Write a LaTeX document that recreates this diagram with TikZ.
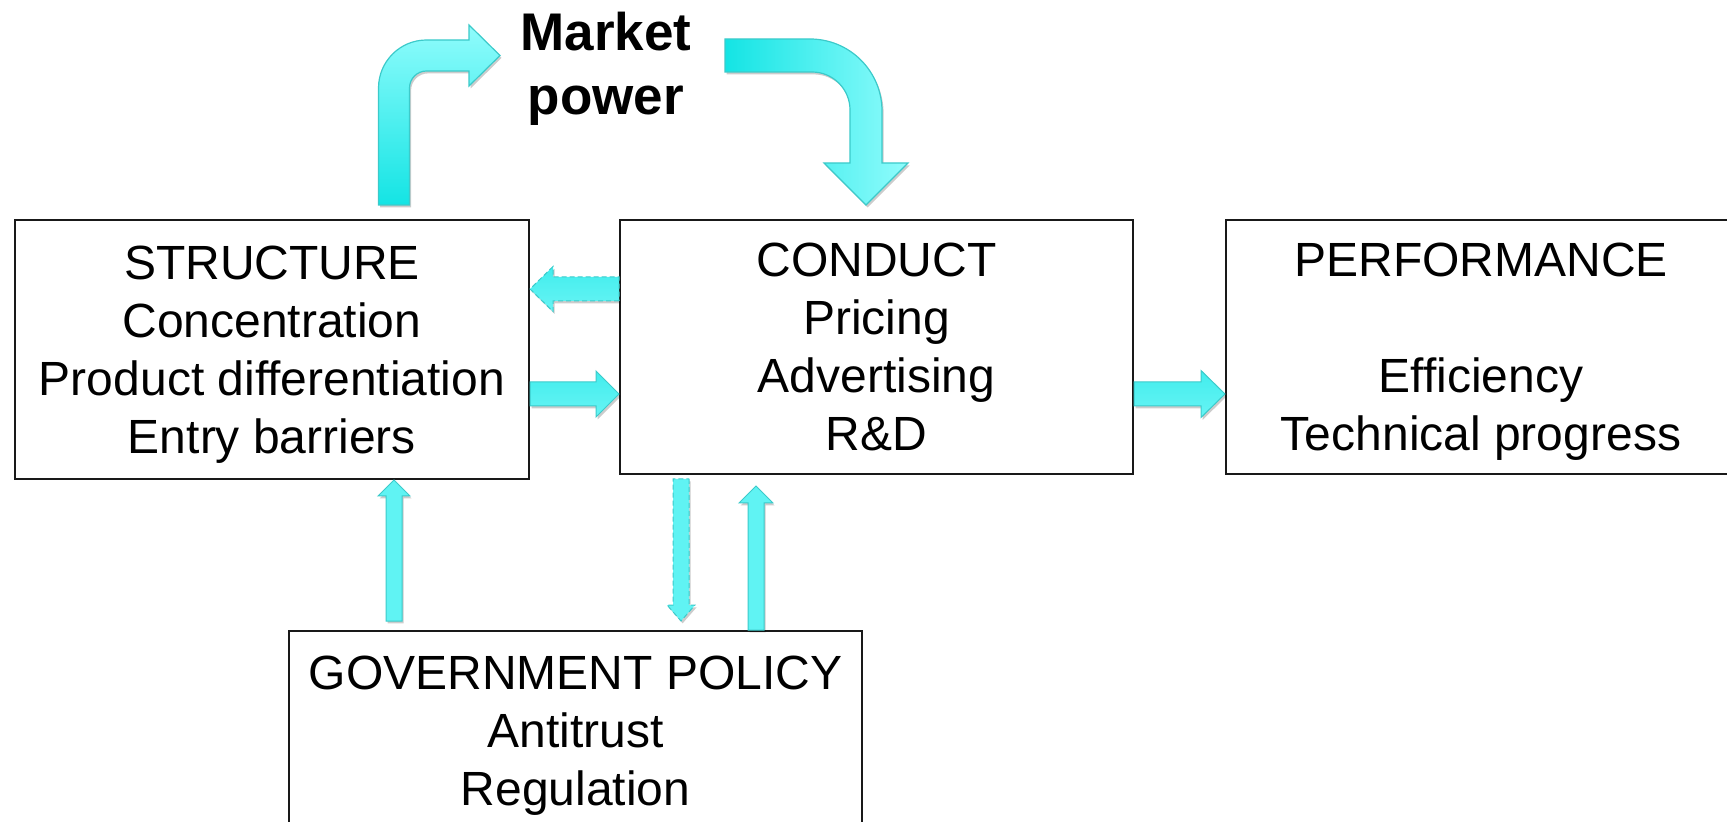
\documentclass[tikz,border=0pt]{standalone}
\usepackage{fontspec}
\setmainfont{Liberation Sans}
\usetikzlibrary{positioning,calc,shadows}

\definecolor{cyanlight}{HTML}{90FCFC}
\definecolor{cyandark}{HTML}{14E4E4}
\definecolor{cyanmid}{HTML}{4CEFEF}
\definecolor{cyanedge}{HTML}{3CCACA}

\newcommand{\boxfont}{\fontsize{24}{29}\selectfont}
\newcommand{\mpfont}{\fontsize{26.5}{32}\selectfont\bfseries}

% block arrow #2 -> #3, half shaft #4, half head #5, head length #6
\newcommand{\blockarrow}[6][]{%
  \coordinate (ba-s) at #2;
  \coordinate (ba-e) at #3;
  \coordinate (ba-h) at ($(ba-e)!#6!(ba-s)$);
  \path[#1] ($(ba-s)!#4!90:(ba-e)$) -- ($(ba-h)!#4!90:(ba-e)$)
    -- ($(ba-h)!#5!90:(ba-e)$) -- (ba-e) -- ($(ba-h)!#5!-90:(ba-e)$)
    -- ($(ba-h)!#4!-90:(ba-e)$) -- ($(ba-s)!#4!-90:(ba-e)$) -- cycle;
}

\tikzset{
  box/.style={draw=black!90, line width=1pt, align=center, font=\boxfont, inner sep=0pt, text depth=0pt},
  arrowshadow/.style={drop shadow={shadow xshift=0.8pt, shadow yshift=-1.2pt, opacity=0.2, fill=black}},
  bendarrow/.style={draw=cyanedge, line width=0.6pt, arrowshadow},
  flowarrow/.style={draw=cyanedge, line width=0.5pt, arrowshadow,
    top color=cyanmid!80!cyandark, bottom color=cyanmid!60!cyanlight},
  upflow/.style={draw=cyanedge, line width=0.5pt, arrowshadow, fill=cyanmid!70!cyanlight},
  dasharrow/.style={flowarrow, dash pattern=on 2.5pt off 1.5pt},
  dashdown/.style={upflow, dash pattern=on 2.5pt off 1.5pt},
}

\begin{document}
\begin{tikzpicture}[x=0.5pt,y=-0.5pt]
\useasboundingbox (0,0) rectangle (1727,822);

% boxes
\node[box, minimum width=257pt, minimum height=129.5pt] (struct) at (272,349.5)
  {STRUCTURE\\Concentration\\Product differentiation\\Entry barriers};
\node[box, minimum width=256.5pt, minimum height=127pt] (cond) at (876.5,347)
  {CONDUCT\\Pricing\\Advertising\\R\&D};
\node[box, minimum width=255pt, minimum height=127pt] (perf) at (1481,347)
  {PERFORMANCE\\ ~\\Efficiency\\Technical progress};
\node[box, minimum width=286.5pt, minimum height=100pt] (gov) at (575.5,731)
  {GOVERNMENT POLICY\\Antitrust\\Regulation};
\node[font=\mpfont, align=center] (mp) at (606,69) {Market\\power};

\coordinate (lane1) at (394,0);
\coordinate (lane2) at (681,0);
\coordinate (lane3) at (756,0);
\coordinate (lane4) at (866,0);
\coordinate (mpin) at (500,55.5);
\coordinate (mpout) at (725,55.5);
\coordinate (sfoot) at ($(struct.north -| lane1)+(0,-14)$);
\coordinate (cfoot) at ($(cond.north -| lane4)+(0,-14)$);

% structure -> market power
\path[bendarrow, top color=cyanlight, bottom color=cyandark]
  ($(sfoot)+(-15.5,0)$) [rounded corners=24pt] -- ($(sfoot |- mpin)+(-15.5,-15.5)$) [sharp corners]
  -- ($(mpin)+(-31,-15.5)$) -- ($(mpin)+(-31,-30.5)$) -- (mpin)
  -- ($(mpin)+(-31,30.5)$) -- ($(mpin)+(-31,15.5)$) [rounded corners=8.5pt]
  -- ($(sfoot |- mpin)+(15.5,15.5)$) [sharp corners] -- ($(sfoot)+(15.5,0)$) -- cycle;

% market power -> conduct
\path[bendarrow, left color=cyandark, right color=cyanlight]
  ($(mpout)+(0,-16.5)$) [rounded corners=36pt] -- ($(cfoot |- mpout)+(16,-16.5)$) [sharp corners]
  -- ($(cfoot)+(16,-42)$) -- ($(cfoot)+(42,-42)$) -- (cfoot)
  -- ($(cfoot)+(-42,-42)$) -- ($(cfoot)+(-16,-42)$) [rounded corners=19pt]
  -- ($(cfoot |- mpout)+(-16,16.5)$) [sharp corners] -- ($(mpout)+(0,16.5)$) -- cycle;

% straight connectors
\blockarrow[dasharrow]{(cond.west |- 0,289)}{(struct.east |- 0,289)}{6pt}{11.25pt}{11.5pt}
\blockarrow[flowarrow]{(struct.east |- 0,394)}{(cond.west |- 0,394)}{6pt}{11.5pt}{11.5pt}
\blockarrow[flowarrow]{(cond.east |- 0,394)}{(perf.west |- 0,394)}{6pt}{11.75pt}{12pt}
\blockarrow[upflow]{($(gov.north -| lane1)+(0,-9)$)}{(struct.south -| lane1)}{4pt}{8pt}{8pt}
\blockarrow[dashdown]{($(cond.south -| lane2)+(0,4)$)}{($(gov.north -| lane2)+(0,-9)$)}{4pt}{7pt}{8pt}
\blockarrow[upflow]{(gov.north -| lane3)}{($(cond.south -| lane3)+(0,11)$)}{4pt}{8.5pt}{8.5pt}
\end{tikzpicture}
\end{document}
